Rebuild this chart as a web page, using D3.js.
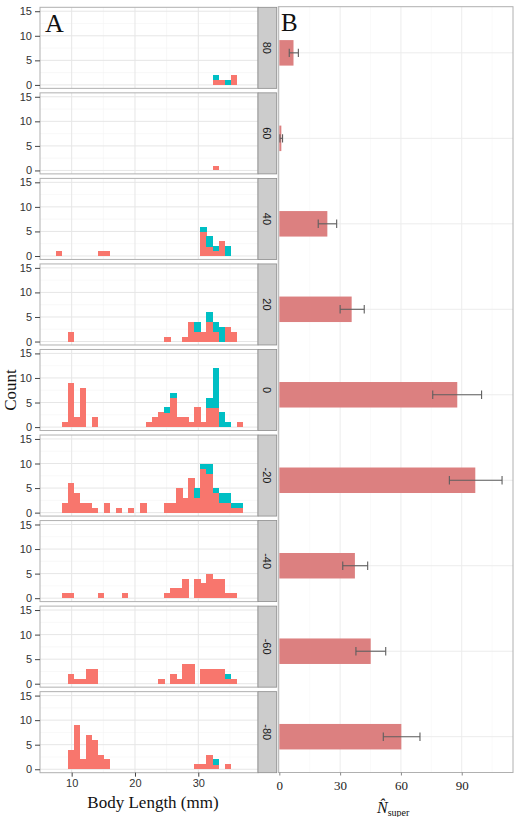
<!DOCTYPE html>
<html><head><meta charset="utf-8">
<script src="https://cdn.jsdelivr.net/npm/d3@7"></script>
<style>html,body{margin:0;padding:0;background:#fff;} svg{display:block;}</style>
</head><body>
<script>
// ---------------- data ----------------
const transects = ["80","60","40","20","0","-20","-40","-60","-80"];
const binStart = 7.47;      // mm, left edge of first histogram bin
const binWidth = 0.953;     // mm
const lengthTicks = [10, 20, 30];
const countTicks = [0, 5, 10, 15];
const nTicks = [0, 30, 60, 90];

// counts per bin (31 bins), one row per transect, for the two groups
const redCounts = [
  [0,0,0,0,0,0,0,0,0,0, 0,0,0,0,0,0,0,0,0,0, 0,0,0,0,0,0,1,1,0,2,0],
  [0,0,0,0,0,0,0,0,0,0, 0,0,0,0,0,0,0,0,0,0, 0,0,0,0,0,0,1,0,0,0,0],
  [1,0,0,0,0,0,0,1,1,0, 0,0,0,0,0,0,0,0,0,0, 0,0,0,0,5,2,1,3,0,0,0],
  [0,0,2,0,0,0,0,0,0,0, 0,0,0,0,0,0,0,0,1,0, 0,1,4,2,2,4,2,0,3,2,0],
  [0,1,9,2,8,0,2,0,0,0, 0,0,0,0,0,1,2,3,3,6, 2,2,1,4,1,4,4,0,0,0,1],
  [0,2,6,4,2,2,1,0,2,0, 1,0,1,0,2,0,0,0,2,2, 5,3,7,3,9,8,4,2,2,1,1],
  [0,1,1,0,0,0,0,1,0,0, 0,1,0,0,0,0,0,0,1,2, 2,4,0,4,3,5,4,4,1,1,0],
  [0,0,2,1,1,3,3,0,0,0, 0,0,0,0,0,0,0,1,0,2, 1,4,4,0,3,3,3,3,1,1,0],
  [0,0,4,9,2,7,6,3,2,0, 0,0,0,0,0,0,0,0,0,0, 0,0,0,1,1,3,1,0,1,0,0]
];
const tealCounts = [
  [0,0,0,0,0,0,0,0,0,0, 0,0,0,0,0,0,0,0,0,0, 0,0,0,0,0,0,1,0,1,0,0],
  [0,0,0,0,0,0,0,0,0,0, 0,0,0,0,0,0,0,0,0,0, 0,0,0,0,0,0,0,0,0,0,0],
  [0,0,0,0,0,0,0,0,0,0, 0,0,0,0,0,0,0,0,0,0, 0,0,0,0,1,2,1,0,2,0,0],
  [0,0,0,0,0,0,0,0,0,0, 0,0,0,0,0,0,0,0,0,0, 0,0,0,2,0,2,2,3,0,0,0],
  [0,0,0,0,0,0,0,0,0,0, 0,0,0,0,0,0,0,0,1,1, 0,0,0,0,0,2,8,3,1,0,0],
  [0,0,0,0,0,0,0,0,0,0, 0,0,0,0,0,0,0,0,0,0, 0,0,0,2,1,2,1,2,2,1,1],
  [0,0,0,0,0,0,0,0,0,0, 0,0,0,0,0,0,0,0,0,0, 0,0,0,0,0,0,0,0,0,0,0],
  [0,0,0,0,0,0,0,0,0,0, 0,0,0,0,0,0,0,0,0,0, 0,0,0,0,0,0,0,0,1,0,0],
  [0,0,0,0,0,0,0,0,0,0, 0,0,0,0,0,0,0,0,0,0, 0,0,0,0,0,0,1,0,0,0,0]
];

// panel B: estimated N_super with interval
const nHat  = [7.0, 1.0, 23.7, 35.7, 87.8, 96.7, 37.3, 45.1, 60.2];
const nLow  = [4.9, 0.3, 19.2, 30.0, 75.7, 83.9, 31.3, 37.8, 51.3];
const nHigh = [9.4, 1.6, 28.3, 41.9, 99.8, 109.9, 43.6, 52.5, 69.4];

// ---------------- drawing ----------------
const W = 517, H = 817;
const RED = "#F8766D", TEAL = "#00BFC4";
const svg = d3.select("body").append("svg").attr("width", W).attr("height", H);
svg.append("rect").attr("width", W).attr("height", H).attr("fill", "#fff");

const sans = "'Liberation Sans', Arial, sans-serif";
const serif = "'Liberation Serif', 'Times New Roman', serif";

// Panel layout scales
const panelBand = d3.scaleBand().domain(transects).range([7.3, 772.7]).paddingInner(0.0526).paddingOuter(0);
const xA = d3.scaleLinear().domain([5.0, 39.43]).range([40, 258]);
const stripX0 = 258, stripX1 = 276.7;

const bins = d3.range(redCounts[0].length);

transects.forEach((t, pi) => {
  const top = panelBand(t), bh = panelBand.bandwidth(), bot = top + bh;
  const yA = d3.scaleLinear().domain([-0.7, 15.8]).range([bot, top]);
  const g = svg.append("g");
  g.append("rect").attr("x", xA.range()[0]).attr("y", top).attr("width", xA.range()[1]-xA.range()[0])
    .attr("height", bh).attr("fill", "#fff");
  // minor grid
  [15, 25, 35].forEach(v => g.append("line").attr("x1", xA(v)).attr("x2", xA(v)).attr("y1", top).attr("y2", bot)
    .attr("stroke", "#f4f4f4").attr("stroke-width", 0.6));
  [2.5, 7.5, 12.5].forEach(v => g.append("line").attr("x1", xA.range()[0]).attr("x2", xA.range()[1])
    .attr("y1", yA(v)).attr("y2", yA(v)).attr("stroke", "#f4f4f4").attr("stroke-width", 0.6));
  // major grid
  lengthTicks.forEach(v => g.append("line").attr("x1", xA(v)).attr("x2", xA(v)).attr("y1", top).attr("y2", bot)
    .attr("stroke", "#e6e6e6").attr("stroke-width", 1));
  countTicks.forEach(v => g.append("line").attr("x1", xA.range()[0]).attr("x2", xA.range()[1])
    .attr("y1", yA(v)).attr("y2", yA(v)).attr("stroke", "#e6e6e6").attr("stroke-width", 1));
  // stacked histogram bars
  const r = redCounts[pi], tc = tealCounts[pi];
  const bg = g.append("g").attr("shape-rendering", "crispEdges");
  bins.forEach(i => {
    const x0 = xA(binStart + i * binWidth), x1 = xA(binStart + (i + 1) * binWidth);
    if (r[i] > 0) bg.append("rect").attr("x", x0).attr("width", x1 - x0 + 0.4)
      .attr("y", yA(r[i])).attr("height", yA(0) - yA(r[i])).attr("fill", RED);
    if (tc[i] > 0) bg.append("rect").attr("x", x0).attr("width", x1 - x0 + 0.4)
      .attr("y", yA(r[i] + tc[i])).attr("height", yA(r[i]) - yA(r[i] + tc[i]) + (r[i] > 0 ? 0.4 : 0)).attr("fill", TEAL);
  });
  // border
  g.append("rect").attr("x", xA.range()[0]).attr("y", top).attr("width", xA.range()[1]-xA.range()[0])
    .attr("height", bh).attr("fill", "none").attr("stroke", "#b0b0b0").attr("stroke-width", 1);
  // y axis
  const ax = g.append("g").attr("transform", `translate(${xA.range()[0]},0)`)
    .call(d3.axisLeft(yA).tickValues(countTicks).tickSize(5).tickPadding(3));
  ax.select(".domain").remove();
  ax.selectAll("line").attr("stroke", "#444");
  ax.selectAll("text").attr("font-family", sans).attr("font-size", 11).attr("fill", "#333");
  // strip
  g.append("rect").attr("x", stripX0).attr("y", top).attr("width", stripX1 - stripX0).attr("height", bh)
    .attr("fill", "#cccccc").attr("stroke", "#8c8c8c").attr("stroke-width", 0.8);
  g.append("text").attr("transform", `translate(${(stripX0 + stripX1) / 2},${top + bh / 2}) rotate(90)`)
    .attr("text-anchor", "middle").attr("dy", "0.35em")
    .attr("font-family", sans).attr("font-size", 11).attr("fill", "#1a1a1a").text(t);
});

// x axis A
const lastBottom = panelBand(transects[transects.length - 1]) + panelBand.bandwidth();
const axA = svg.append("g").attr("transform", `translate(0,${lastBottom})`)
  .call(d3.axisBottom(xA).tickValues(lengthTicks).tickSize(4).tickPadding(3));
axA.select(".domain").remove();
axA.selectAll("line").attr("stroke", "#444");
axA.selectAll("text").attr("font-family", sans).attr("font-size", 11).attr("fill", "#333");

svg.append("text").attr("x", 153).attr("y", 808).attr("text-anchor", "middle")
  .attr("font-family", serif).attr("font-size", 17).attr("fill", "#111").text("Body Length (mm)");
svg.append("text").attr("transform", `translate(16,390) rotate(-90)`).attr("text-anchor", "middle")
  .attr("font-family", serif).attr("font-size", 17).attr("fill", "#111").text("Count");
svg.append("text").attr("x", 45).attr("y", 32).attr("font-family", serif).attr("font-size", 26)
  .attr("fill", "#111").text("A");

// ---------------- Panel B ----------------
const bTop = 6.7, bBot = 772.5;
const xB = d3.scaleLinear().domain([-0.5, 115.3]).range([278.3, 513]);
const yB = d3.scalePoint().domain(transects).range([52.85, 736.7]);
const barH = 25.5;
const gB = svg.append("g");
gB.append("rect").attr("x", xB.range()[0]).attr("y", bTop).attr("width", xB.range()[1] - xB.range()[0])
  .attr("height", bBot - bTop).attr("fill", "#fff");
[15, 45, 75, 105].forEach(v => gB.append("line").attr("x1", xB(v)).attr("x2", xB(v)).attr("y1", bTop).attr("y2", bBot)
  .attr("stroke", "#f6f6f6").attr("stroke-width", 0.6));
nTicks.forEach(v => gB.append("line").attr("x1", xB(v)).attr("x2", xB(v)).attr("y1", bTop).attr("y2", bBot)
  .attr("stroke", "#ececec").attr("stroke-width", 1));
transects.forEach(t => gB.append("line").attr("x1", xB.range()[0]).attr("x2", xB.range()[1])
  .attr("y1", yB(t)).attr("y2", yB(t)).attr("stroke", "#ececec").attr("stroke-width", 1));
transects.forEach((t, i) => {
  gB.append("rect").attr("x", xB(0)).attr("y", yB(t) - barH / 2).attr("width", xB(nHat[i]) - xB(0))
    .attr("height", barH).attr("fill", "#DC8080");
  const eg = gB.append("g").attr("stroke", "#5e5e5e").attr("stroke-width", 1.1);
  eg.append("line").attr("x1", xB(nLow[i])).attr("x2", xB(nHigh[i])).attr("y1", yB(t)).attr("y2", yB(t));
  [nLow[i], nHigh[i]].forEach(v => eg.append("line").attr("x1", xB(v)).attr("x2", xB(v))
    .attr("y1", yB(t) - 4.2).attr("y2", yB(t) + 4.2));
});
gB.append("rect").attr("x", xB.range()[0]).attr("y", bTop).attr("width", xB.range()[1] - xB.range()[0])
  .attr("height", bBot - bTop).attr("fill", "none").attr("stroke", "#b0b0b0").attr("stroke-width", 1);
const axB = svg.append("g").attr("transform", `translate(0,${bBot})`)
  .call(d3.axisBottom(xB).tickValues(nTicks).tickSize(3).tickPadding(5));
axB.select(".domain").remove();
axB.selectAll("line").attr("stroke", "#888");
axB.selectAll("text").attr("font-family", serif).attr("font-size", 13).attr("fill", "#222");

svg.append("text").attr("x", 281).attr("y", 31).attr("font-family", serif).attr("font-size", 25)
  .attr("fill", "#111").text("B");
const nt = svg.append("text").attr("x", 377).attr("y", 813).attr("font-family", serif).attr("fill", "#111");
nt.append("tspan").attr("font-size", 16).attr("font-style", "italic").text("N\u0302");
nt.append("tspan").attr("font-size", 10).attr("dy", 3).text("super");
</script>
</body></html>
